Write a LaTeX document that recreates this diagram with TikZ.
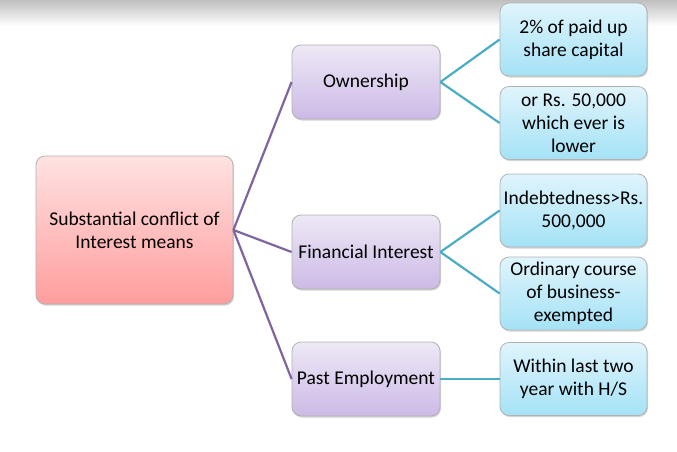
\documentclass[tikz,border=0pt]{standalone}
\usepackage{fontspec}
\setmainfont{Carlito}
\usetikzlibrary{shadows}
\definecolor{purpline}{HTML}{8064A2}
\definecolor{tealline}{HTML}{4BACC6}
\tikzset{
  basebox/.style={draw=black!30, line width=0.8pt, rounded corners=9pt, align=center,
    font=\fontsize{19.5}{23}\selectfont, inner sep=2pt,
    drop shadow={shadow xshift=1pt, shadow yshift=-1.5pt, opacity=0.35}},
  rootbox/.style={basebox, minimum width=197pt, minimum height=148pt,
    top color={rgb,255:red,255;green,226;blue,226}, bottom color={rgb,255:red,255;green,157;blue,157}},
  midbox/.style={basebox, minimum width=148pt, minimum height=74pt,
    top color={rgb,255:red,238;green,232;blue,246}, bottom color={rgb,255:red,204;green,186;blue,230}},
  leafbox/.style={basebox, minimum width=147pt, minimum height=73pt,
    top color={rgb,255:red,224;green,244;blue,252}, bottom color={rgb,255:red,164;green,226;blue,246}},
  pline/.style={draw=purpline, line width=2.2pt},
  tline/.style={draw=tealline, line width=2.2pt}
}
\begin{document}
\begin{tikzpicture}[x=1pt,y=-1pt]
\useasboundingbox (0,0) rectangle (677,451);
\shade[top color=black!25, bottom color=white] (0,0) rectangle (677,26);
% nodes
\node[rootbox] (root) at (134.5,230) {Substantial conflict of\\Interest means};
\node[midbox] (own) at (366,82) {Ownership};
\node[midbox] (fin) at (366,252) {Financial Interest};
\node[midbox] (past) at (366,379) {Past Employment};
\node[leafbox] (l1) at (573.5,39.5) {2\% of paid up\\share capital};
\node[leafbox] (l2) at (573.5,123) {or Rs. 50,000\\which ever is\\lower};
\node[leafbox] (l3) at (573.5,210.5) {Indebtedness>Rs.\\500,000};
\node[leafbox] (l4) at (573.5,293.5) {Ordinary course\\of business-\\exempted};
\node[leafbox] (l5) at (573.5,379) {Within last two\\year with H/S};
% connectors
\draw[pline] (root.east) -- (own.west);
\draw[pline] (root.east) -- (fin.west);
\draw[pline] (root.east) -- (past.west);
\draw[tline] (own.east) -- (l1.west);
\draw[tline] (own.east) -- (l2.west);
\draw[tline] (fin.east) -- (l3.west);
\draw[tline] (fin.east) -- (l4.west);
\draw[tline] (past.east) -- (l5.west);
\end{tikzpicture}
\end{document}
